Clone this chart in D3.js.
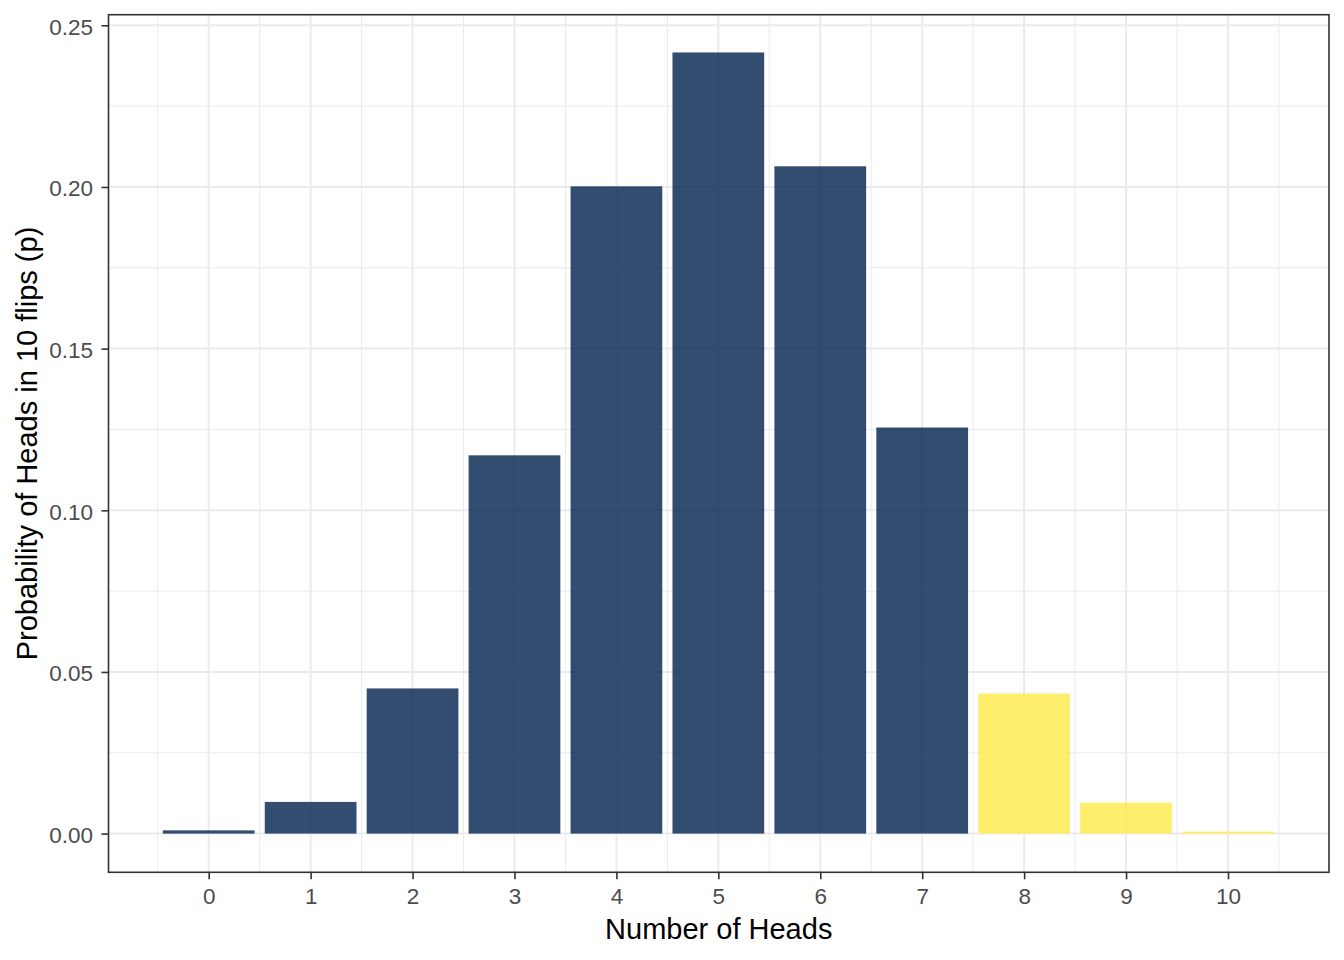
<!DOCTYPE html>
<html>
<head>
<meta charset="utf-8">
<script src="https://cdn.jsdelivr.net/npm/d3@7"></script>
<style>
  html, body { margin: 0; padding: 0; background: #fff; }
  svg { display: block; }
</style>
</head>
<body>
<svg id="chart" width="1344" height="960"></svg>
<script>
// ---- data ----
const heads = [0, 1, 2, 3, 4, 5, 6, 7, 8, 9, 10];
const probs = [0.0010, 0.0098, 0.0449, 0.1170, 0.2002, 0.2416, 0.2064, 0.1256, 0.0433, 0.0096, 0.0006];
const groups = ["low", "low", "low", "low", "low", "low", "low", "low", "high", "high", "high"];
const yTicks = [0, 0.05, 0.10, 0.15, 0.20, 0.25];
const xTitle = "Number of Heads";
const yTitle = "Probability of Heads in 10 flips (p)";

(function () {
const svg = d3.select("#chart");
const pL = 108.5, pR = 1329, pT = 14.7, pB = 872.3;

const x = d3.scaleLinear().domain([-0.983, 10.991]).range([pL, pR]);
const y = d3.scaleLinear().domain([-0.01197, 0.25328]).range([pB, pT]);
const color = d3.scaleOrdinal().domain(["low", "high"]).range(["#00204D", "#FFEA46"]);

const g = svg.append("g");

// minor grid
const xMinor = d3.range(-0.5, 11, 1);
const yMinor = d3.range(0.025, 0.25, 0.05);
g.selectAll(".xminor").data(xMinor).join("line")
  .attr("x1", d => x(d)).attr("x2", d => x(d)).attr("y1", pT).attr("y2", pB)
  .attr("stroke", "#EBEBEB").attr("stroke-width", 1);
g.selectAll(".yminor").data(yMinor).join("line")
  .attr("x1", pL).attr("x2", pR).attr("y1", d => y(d)).attr("y2", d => y(d))
  .attr("stroke", "#EBEBEB").attr("stroke-width", 1);
// major grid
g.selectAll(".xmajor").data(heads).join("line")
  .attr("x1", d => x(d)).attr("x2", d => x(d)).attr("y1", pT).attr("y2", pB)
  .attr("stroke", "#EBEBEB").attr("stroke-width", 2);
g.selectAll(".ymajor").data(yTicks).join("line")
  .attr("x1", pL).attr("x2", pR).attr("y1", d => y(d)).attr("y2", d => y(d))
  .attr("stroke", "#EBEBEB").attr("stroke-width", 2);

// bars
const bw = 0.9;
g.selectAll(".bar").data(heads).join("rect")
  .attr("x", (d) => x(d - bw / 2))
  .attr("width", x(bw) - x(0))
  .attr("y", (d, i) => y(probs[i]))
  .attr("height", (d, i) => y(0) - y(probs[i]))
  .attr("fill", (d, i) => color(groups[i]))
  .attr("fill-opacity", 0.8);

// panel border
svg.append("rect")
  .attr("x", pL).attr("y", pT).attr("width", pR - pL).attr("height", pB - pT)
  .attr("fill", "none").attr("stroke", "#333333").attr("stroke-width", 1.6);

// axes
const font = "'Liberation Sans', Arial, sans-serif";
const xAxis = d3.axisBottom(x).tickValues(heads).tickFormat(d3.format("d")).tickSizeInner(7).tickSizeOuter(0).tickPadding(6);
const yAxis = d3.axisLeft(y).tickValues(yTicks).tickFormat(d3.format(".2f")).tickSizeInner(7).tickSizeOuter(0).tickPadding(8.5);

const gx = svg.append("g").attr("transform", `translate(0,${pB})`).call(xAxis);
const gy = svg.append("g").attr("transform", `translate(${pL},0)`).call(yAxis);
[gx, gy].forEach(a => {
  a.select(".domain").remove();
  a.selectAll(".tick line").attr("stroke", "#333333").attr("stroke-width", 1.6);
  a.selectAll(".tick text").attr("fill", "#4D4D4D").style("font-family", font).style("font-size", "22.5px");
});
gx.selectAll(".tick text").attr("dy", "0.85em");
gy.selectAll(".tick text").attr("dy", "0.4em");

// titles
svg.append("text")
  .attr("x", (pL + pR) / 2).attr("y", 939)
  .attr("text-anchor", "middle")
  .style("font-family", font).style("font-size", "29px").attr("fill", "#000")
  .text(xTitle);
svg.append("text")
  .attr("transform", `translate(37,${(pT + pB) / 2}) rotate(-90)`)
  .attr("text-anchor", "middle")
  .style("font-family", font).style("font-size", "29px").attr("fill", "#000")
  .text(yTitle);
})();
</script>
</body>
</html>
